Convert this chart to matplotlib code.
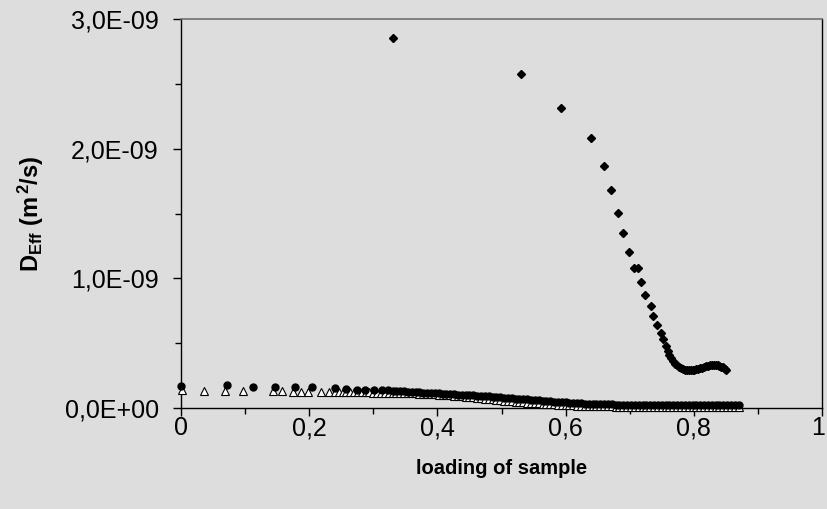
import numpy as np
import matplotlib
matplotlib.use('Agg')
import matplotlib.pyplot as plt
from matplotlib.ticker import MultipleLocator, FuncFormatter
from matplotlib.transforms import ScaledTranslation

plt.rcParams['font.family'] = ['Liberation Sans', 'DejaVu Sans']
plt.rcParams['mathtext.fontset'] = 'custom'
plt.rcParams['mathtext.rm'] = 'Liberation Sans:bold'
plt.rcParams['mathtext.it'] = 'Liberation Sans:bold'
plt.rcParams['mathtext.bf'] = 'Liberation Sans:bold'

# D_eff values are given in units of 1E-09 m^2/s
diamond_x = [0.331, 0.531, 0.593, 0.639, 0.660, 0.671, 0.681, 0.690, 0.699, 0.706,
             0.713, 0.718, 0.724, 0.733, 0.737, 0.742, 0.749, 0.752, 0.756, 0.759,
             0.762, 0.765, 0.768, 0.771, 0.774, 0.777, 0.780, 0.783, 0.786, 0.789,
             0.792, 0.795, 0.798, 0.801, 0.804, 0.807, 0.810, 0.813, 0.816, 0.819,
             0.822, 0.825, 0.828, 0.831, 0.834, 0.837, 0.840, 0.843, 0.846, 0.849,
             0.851]
diamond_d = [2.855, 2.573, 2.311, 2.079, 1.868, 1.678, 1.506, 1.347, 1.205, 1.082,
             1.082, 0.974, 0.869, 0.786, 0.709, 0.638, 0.581, 0.530, 0.480, 0.442,
             0.410, 0.385, 0.362, 0.343, 0.328, 0.316, 0.307, 0.300, 0.296, 0.293,
             0.291, 0.291, 0.292, 0.294, 0.297, 0.301, 0.306, 0.311, 0.317, 0.322,
             0.327, 0.331, 0.334, 0.335, 0.334, 0.331, 0.326, 0.320, 0.313, 0.303,
             0.296]

circle_x = [0.000, 0.071, 0.112, 0.146, 0.178, 0.204, 0.241, 0.257, 0.275, 0.287,
            0.301, 0.313, 0.323,
            0.330, 0.336, 0.342, 0.348, 0.354, 0.360, 0.366, 0.372, 0.378, 0.384,
            0.390, 0.396, 0.402, 0.408, 0.414, 0.420, 0.426, 0.432, 0.438, 0.444,
            0.450, 0.456, 0.462, 0.468, 0.474, 0.480, 0.486, 0.492, 0.498, 0.504,
            0.510, 0.516, 0.522, 0.528, 0.534, 0.540, 0.546, 0.552, 0.558, 0.564,
            0.570, 0.576, 0.582, 0.588, 0.594, 0.600, 0.606, 0.612, 0.618, 0.624,
            0.630, 0.636, 0.642, 0.648, 0.654, 0.660, 0.666, 0.672, 0.678, 0.684,
            0.690, 0.696, 0.702, 0.708, 0.714, 0.720, 0.726, 0.732, 0.738, 0.744,
            0.750, 0.756, 0.762, 0.768, 0.774, 0.780, 0.786, 0.792, 0.798, 0.804,
            0.810, 0.816, 0.822, 0.828, 0.834, 0.840, 0.846, 0.852, 0.858, 0.864,
            0.870]
circle_d = [0.172, 0.177, 0.164, 0.164, 0.160, 0.160, 0.152, 0.146, 0.142, 0.140,
            0.139, 0.137, 0.136,
            0.134, 0.132, 0.130, 0.128, 0.126, 0.124, 0.122, 0.120, 0.118, 0.116,
            0.115, 0.113, 0.112, 0.110, 0.108, 0.107, 0.105, 0.104, 0.102, 0.101,
            0.099, 0.098, 0.096, 0.094, 0.092, 0.090, 0.088, 0.085, 0.083, 0.080,
            0.078, 0.076, 0.073, 0.071, 0.069, 0.067, 0.064, 0.062, 0.060, 0.057,
            0.055, 0.052, 0.050, 0.047, 0.045, 0.043, 0.041, 0.039, 0.037, 0.035,
            0.034, 0.032, 0.031, 0.030, 0.029, 0.028, 0.027, 0.027, 0.026, 0.026,
            0.026, 0.026, 0.026, 0.026, 0.026, 0.026, 0.026, 0.026, 0.026, 0.026,
            0.025, 0.025, 0.025, 0.025, 0.025, 0.025, 0.025, 0.025, 0.025, 0.025,
            0.025, 0.024, 0.024, 0.024, 0.024, 0.024, 0.024, 0.024, 0.024, 0.024,
            0.024]

triangle_x = [0.001, 0.036, 0.069, 0.096, 0.143, 0.158, 0.174, 0.187, 0.198, 0.219,
              0.231,
              0.240, 0.246, 0.252, 0.258, 0.264, 0.270, 0.276, 0.282, 0.288, 0.294,
              0.300, 0.306, 0.312, 0.318, 0.324, 0.330, 0.336, 0.342, 0.348, 0.354,
              0.360, 0.366, 0.372, 0.378, 0.384, 0.390, 0.396, 0.402, 0.408, 0.414,
              0.420, 0.426, 0.432, 0.438, 0.444, 0.450, 0.456, 0.462, 0.468, 0.474,
              0.480, 0.486, 0.492, 0.498, 0.504, 0.510, 0.516, 0.522, 0.528, 0.534,
              0.540, 0.546, 0.552, 0.558, 0.564, 0.570, 0.576, 0.582, 0.588, 0.594,
              0.600, 0.606, 0.612, 0.618, 0.624, 0.630, 0.636, 0.642, 0.648, 0.654,
              0.660, 0.666, 0.672, 0.678, 0.684, 0.690, 0.696, 0.702, 0.708, 0.714,
              0.720, 0.726, 0.732, 0.738, 0.744, 0.750, 0.756, 0.762, 0.768, 0.774,
              0.780, 0.786, 0.792, 0.798, 0.804, 0.810, 0.816, 0.822, 0.828, 0.834,
              0.840, 0.846, 0.852, 0.858, 0.864, 0.871]
triangle_d = [0.135, 0.132, 0.132, 0.132, 0.130, 0.130, 0.127, 0.127, 0.126, 0.125,
              0.124,
              0.123, 0.122, 0.122, 0.122, 0.121, 0.121, 0.121, 0.120, 0.120, 0.120,
              0.119, 0.119, 0.118, 0.118, 0.117, 0.117, 0.116, 0.116, 0.115, 0.114,
              0.113, 0.112, 0.111, 0.110, 0.108, 0.107, 0.105, 0.104, 0.102, 0.100,
              0.097, 0.095, 0.092, 0.090, 0.087, 0.084, 0.081, 0.078, 0.075, 0.072,
              0.069, 0.066, 0.063, 0.060, 0.057, 0.054, 0.051, 0.049, 0.046, 0.044,
              0.042, 0.040, 0.038, 0.036, 0.034, 0.032, 0.030, 0.028, 0.026, 0.025,
              0.023, 0.022, 0.020, 0.019, 0.018, 0.017, 0.016, 0.015, 0.014, 0.013,
              0.013, 0.012, 0.012, 0.011, 0.011, 0.010, 0.010, 0.009, 0.009, 0.009,
              0.008, 0.008, 0.008, 0.008, 0.008, 0.008, 0.008, 0.008, 0.008, 0.008,
              0.008, 0.008, 0.008, 0.008, 0.008, 0.008, 0.008, 0.008, 0.008, 0.008,
              0.008, 0.008, 0.008, 0.008, 0.008, 0.010]

x_ticks = [0, 0.2, 0.4, 0.6, 0.8, 1.0]
y_ticks = [0, 1e-9, 2e-9, 3e-9]

unit = 1e-9
bg = '#dddddd'

fig = plt.figure(figsize=(8.27, 5.09), dpi=100, facecolor=bg)
ax = fig.add_axes([181 / 827, 1 - 408 / 509, 641 / 827, 389 / 509])
ax.set_facecolor(bg)

ax.plot(triangle_x, np.array(triangle_d) * unit, linestyle='none', marker='^',
        markersize=5.5, markerfacecolor='white', markeredgecolor='black',
        markeredgewidth=0.8, clip_on=False, zorder=3)
ax.plot(circle_x, np.array(circle_d) * unit, linestyle='none', marker='o',
        markersize=5, color='black', clip_on=False, zorder=4)
ax.plot(diamond_x, np.array(diamond_d) * unit, linestyle='none', marker='D',
        markersize=3.8, color='black', clip_on=False, zorder=5)

ax.set_xlim(0, 1)
ax.set_ylim(0, 3e-9)

ax.set_xticks(x_ticks)
ax.set_yticks(y_ticks)
ax.xaxis.set_minor_locator(MultipleLocator(0.1))
ax.yaxis.set_minor_locator(MultipleLocator(0.5e-9))
ax.xaxis.set_major_formatter(FuncFormatter(lambda v, p: ('%g' % v).replace('.', ',')))
ax.yaxis.set_major_formatter(FuncFormatter(lambda v, p: ('%.1E' % v).replace('.', ',')))

ax.tick_params(axis='both', which='major', direction='out', length=6, width=1,
               labelsize=18, colors='black')
ax.tick_params(axis='both', which='minor', direction='out', length=4, width=1)
ax.tick_params(axis='y', which='major', pad=10)
ax.tick_params(axis='x', which='major', pad=0)

# keep the "1" label inside the picture, as in the original
last = ax.get_xticklabels()[-1]
last.set_transform(last.get_transform() + ScaledTranslation(-4 / 100, 0, fig.dpi_scale_trans))

for side in ['left', 'bottom', 'right']:
    ax.spines[side].set_color('black')
    ax.spines[side].set_linewidth(1)
ax.spines['top'].set_color('#707070')
ax.spines['top'].set_linewidth(1.2)

ax.set_xlabel('loading of sample', fontsize=14.5, fontweight='bold')
ax.xaxis.set_label_coords(0.5, -(468 - 408) / 389, transform=ax.transAxes)
ax.xaxis.label.set_va('center')
ax.set_ylabel(r'D$_{\mathregular{Eff}}$ (m$^{\,\mathregular{2}}$/s)', fontsize=17,
              fontweight='bold')
ax.yaxis.set_label_coords(-(181 - 46) / 641, 0.5, transform=ax.transAxes)

fig.savefig('out.png', dpi=100, facecolor=bg)
